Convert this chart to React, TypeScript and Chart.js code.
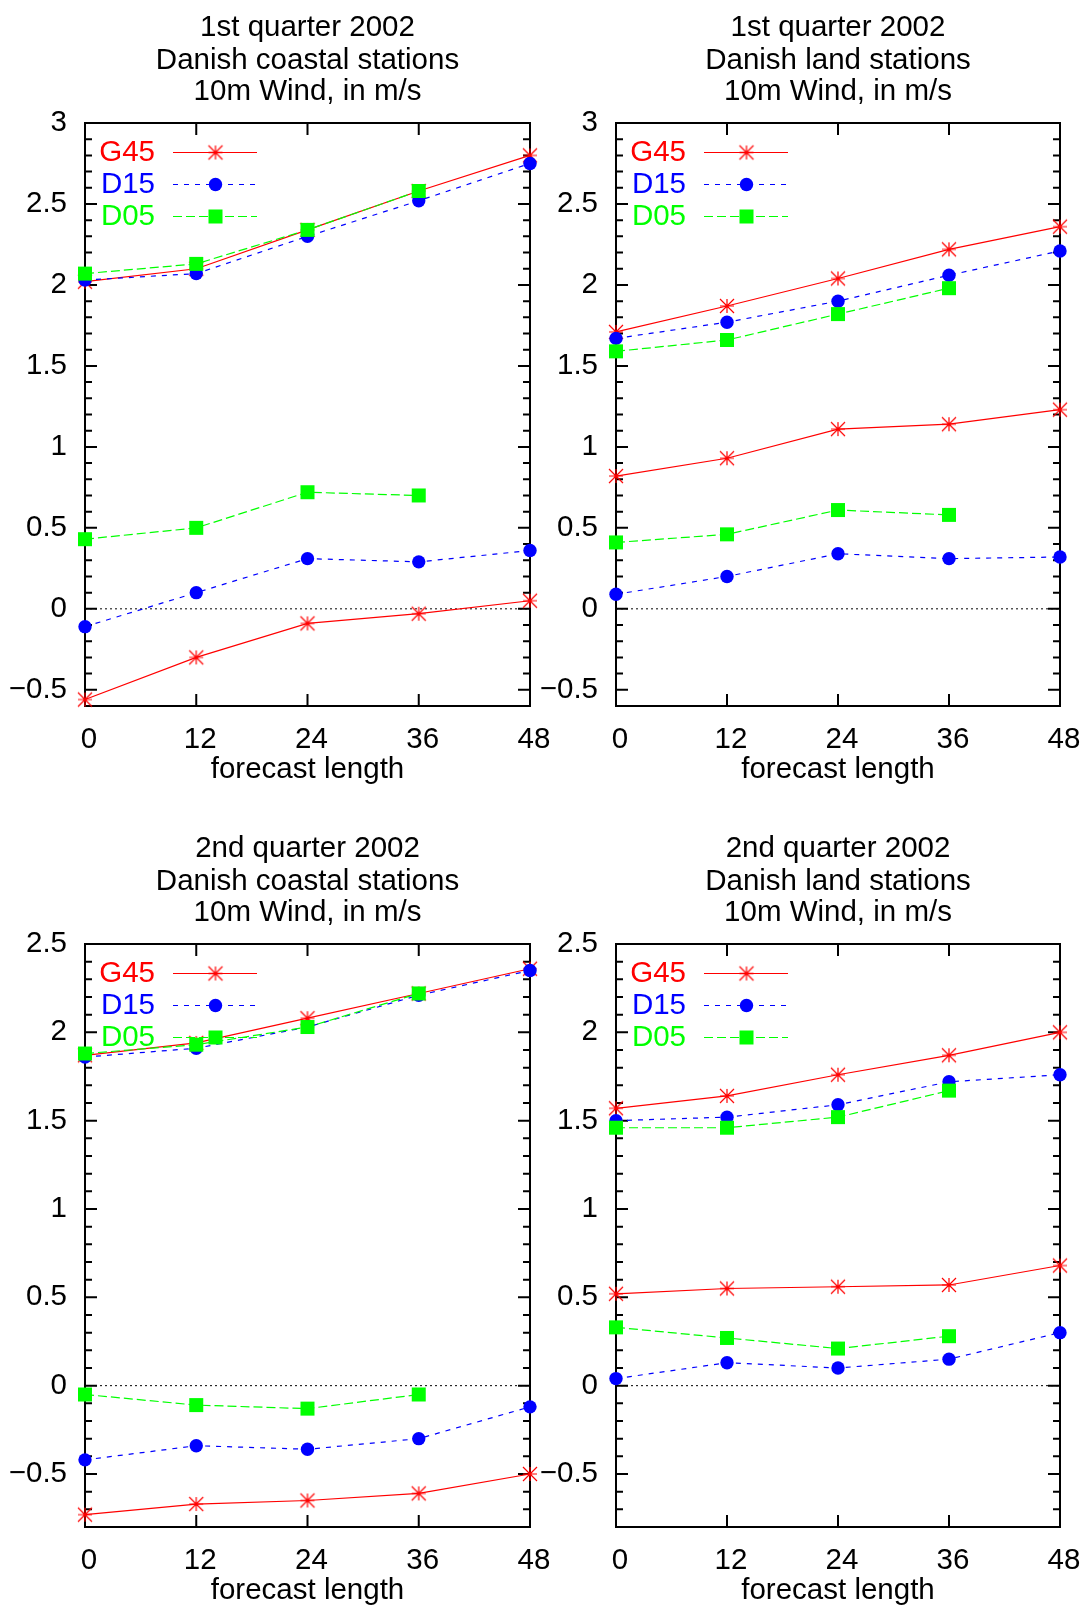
import React, { useEffect, useRef } from "react";
import { Chart, registerables } from "chart.js";

Chart.register(...registerables);

const FONT_FAMILY = '"Liberation Sans", Arial, Helvetica, sans-serif';
const FONT_SIZE = 29.5;
Chart.defaults.font.family = FONT_FAMILY;

// ---------- data ----------
const forecastHours = [0, 12, 24, 36, 48];
const xTickValues = [0, 12, 24, 36, 48];
const xAxisTitle = "forecast length";

const yTicksQ1 = [-0.5, 0, 0.5, 1, 1.5, 2, 2.5, 3];
const yTicksQ2 = [-0.5, 0, 0.5, 1, 1.5, 2, 2.5];
const yRangeQ1 = [-0.6, 3];
const yRangeQ2 = [-0.8, 2.5];

const titleQ1Coast = ["1st quarter 2002", "Danish coastal stations", "10m Wind, in m/s"];
const titleQ1Land = ["1st quarter 2002", "Danish land stations", "10m Wind, in m/s"];
const titleQ2Coast = ["2nd quarter 2002", "Danish coastal stations", "10m Wind, in m/s"];
const titleQ2Land = ["2nd quarter 2002", "Danish land stations", "10m Wind, in m/s"];

const seriesNames = ["G45", "D15", "D05"];

// 1st quarter, coastal
const q1CoastG45Upper = [2.02, 2.1, 2.34, 2.58, 2.8];
const q1CoastD15Upper = [2.03, 2.07, 2.3, 2.52, 2.75];
const q1CoastD05Upper = [2.07, 2.13, 2.34, 2.58, null];
const q1CoastG45Lower = [-0.56, -0.3, -0.09, -0.03, 0.05];
const q1CoastD15Lower = [-0.11, 0.1, 0.31, 0.29, 0.36];
const q1CoastD05Lower = [0.43, 0.5, 0.72, 0.7, null];

// 1st quarter, land
const q1LandG45Upper = [1.71, 1.87, 2.04, 2.22, 2.36];
const q1LandD15Upper = [1.67, 1.77, 1.9, 2.06, 2.21];
const q1LandD05Upper = [1.59, 1.66, 1.82, 1.98, null];
const q1LandG45Lower = [0.82, 0.93, 1.11, 1.14, 1.23];
const q1LandD15Lower = [0.09, 0.2, 0.34, 0.31, 0.32];
const q1LandD05Lower = [0.41, 0.46, 0.61, 0.58, null];

// 2nd quarter, coastal
const q2CoastG45Upper = [1.87, 1.94, 2.08, 2.22, 2.36];
const q2CoastD15Upper = [1.86, 1.91, 2.03, 2.21, 2.35];
const q2CoastD05Upper = [1.88, 1.93, 2.03, 2.22, null];
const q2CoastG45Lower = [-0.73, -0.67, -0.65, -0.61, -0.5];
const q2CoastD15Lower = [-0.42, -0.34, -0.36, -0.3, -0.12];
const q2CoastD05Lower = [-0.05, -0.11, -0.13, -0.05, null];

// 2nd quarter, land
const q2LandG45Upper = [1.57, 1.64, 1.76, 1.87, 2.0];
const q2LandD15Upper = [1.5, 1.52, 1.59, 1.72, 1.76];
const q2LandD05Upper = [1.46, 1.46, 1.52, 1.67, null];
const q2LandG45Lower = [0.52, 0.55, 0.56, 0.57, 0.68];
const q2LandD15Lower = [0.04, 0.13, 0.1, 0.15, 0.3];
const q2LandD05Lower = [0.33, 0.27, 0.21, 0.28, null];

// ---------- styles / layout ----------
type Marker = "star" | "circle" | "rect";
const seriesStyles: Record<string, { color: string; dash: number[]; marker: Marker; order: number }> = {
  G45: { color: "#ff0000", dash: [], marker: "star", order: 3 },
  D15: { color: "#0000ff", dash: [5, 6], marker: "circle", order: 2 },
  D05: { color: "#00ff00", dash: [9, 4], marker: "rect", order: 1 },
};

const STAR_HALF = 7;
const CIRCLE_R = 6.7;
const SQUARE_SIDE = 14;
const LINE_W = 1.2;
const X_AXIS_H = 82;

let starCache: HTMLCanvasElement | null = null;
function starCanvas(): HTMLCanvasElement {
  if (starCache) return starCache;
  const lw = 1.2;
  const size = 2 * STAR_HALF + 4;
  const c = document.createElement("canvas");
  c.width = size;
  c.height = size;
  const g = c.getContext("2d")!;
  const m = size / 2;
  const h = STAR_HALF;
  g.strokeStyle = seriesStyles.G45.color;
  g.lineWidth = lw;
  g.beginPath();
  g.moveTo(m - h, m);
  g.lineTo(m + h, m);
  g.moveTo(m, m - h);
  g.lineTo(m, m + h);
  g.moveTo(m - h, m - h);
  g.lineTo(m + h, m + h);
  g.moveTo(m - h, m + h);
  g.lineTo(m + h, m - h);
  g.stroke();
  starCache = c;
  return c;
}

function fmtTick(v: number): string {
  const n = Number(v.toFixed(2));
  const s = String(Math.abs(n));
  return n < 0 ? "\u2212" + s : s;
}

type PanelCfg = {
  canvas: { x: number; y: number; w: number; h: number };
  plot: { left: number; top: number; right: number; bottom: number };
  title: string[];
  yRange: number[];
  yTicks: number[];
  series: { name: string; values: (number | null)[] }[];
};

const panels: PanelCfg[] = [
  {
    canvas: { x: 0, y: 0, w: 560, h: 800 },
    plot: { left: 85, top: 123, right: 530, bottom: 706 },
    title: titleQ1Coast,
    yRange: yRangeQ1,
    yTicks: yTicksQ1,
    series: [
      { name: "G45", values: q1CoastG45Upper },
      { name: "D15", values: q1CoastD15Upper },
      { name: "D05", values: q1CoastD05Upper },
      { name: "G45", values: q1CoastG45Lower },
      { name: "D15", values: q1CoastD15Lower },
      { name: "D05", values: q1CoastD05Lower },
    ],
  },
  {
    canvas: { x: 520, y: 0, w: 565, h: 800 },
    plot: { left: 616, top: 123, right: 1060, bottom: 706 },
    title: titleQ1Land,
    yRange: yRangeQ1,
    yTicks: yTicksQ1,
    series: [
      { name: "G45", values: q1LandG45Upper },
      { name: "D15", values: q1LandD15Upper },
      { name: "D05", values: q1LandD05Upper },
      { name: "G45", values: q1LandG45Lower },
      { name: "D15", values: q1LandD15Lower },
      { name: "D05", values: q1LandD05Lower },
    ],
  },
  {
    canvas: { x: 0, y: 800, w: 560, h: 809 },
    plot: { left: 85, top: 944, right: 530, bottom: 1527 },
    title: titleQ2Coast,
    yRange: yRangeQ2,
    yTicks: yTicksQ2,
    series: [
      { name: "G45", values: q2CoastG45Upper },
      { name: "D15", values: q2CoastD15Upper },
      { name: "D05", values: q2CoastD05Upper },
      { name: "G45", values: q2CoastG45Lower },
      { name: "D15", values: q2CoastD15Lower },
      { name: "D05", values: q2CoastD05Lower },
    ],
  },
  {
    canvas: { x: 520, y: 800, w: 565, h: 809 },
    plot: { left: 616, top: 944, right: 1060, bottom: 1527 },
    title: titleQ2Land,
    yRange: yRangeQ2,
    yTicks: yTicksQ2,
    series: [
      { name: "G45", values: q2LandG45Upper },
      { name: "D15", values: q2LandD15Upper },
      { name: "D05", values: q2LandD05Upper },
      { name: "G45", values: q2LandG45Lower },
      { name: "D15", values: q2LandD15Lower },
      { name: "D05", values: q2LandD05Lower },
    ],
  },
];

// title baselines relative to plot top; legend rows relative to plot top-left
const TITLE_BASELINES = [-87, -54.5, -23];
const LEGEND_ROWS = [29.5, 61.5, 93.5];
const LEGEND_TEXT_RIGHT = 70;
const LEGEND_LINE = [88, 172];
const LEGEND_MARK = 130.5;

function drawMarker(ctx: CanvasRenderingContext2D, marker: Marker, color: string, x: number, y: number) {
  if (marker === "star") {
    const s = starCanvas();
    ctx.drawImage(s, x - s.width / 2, y - s.height / 2);
  } else if (marker === "circle") {
    ctx.fillStyle = color;
    ctx.beginPath();
    ctx.arc(x, y, CIRCLE_R, 0, Math.PI * 2);
    ctx.fill();
  } else {
    ctx.fillStyle = color;
    ctx.fillRect(x - SQUARE_SIDE / 2, y - SQUARE_SIDE / 2, SQUARE_SIDE, SQUARE_SIDE);
  }
}

function Panel({ cfg }: { cfg: PanelCfg }) {
  const ref = useRef<HTMLCanvasElement>(null);
  useEffect(() => {
    const canvas = ref.current!;
    const c = cfg.canvas;
    const p = cfg.plot;
    const yAxisW = p.left - c.x;
    const padRight = c.x + c.w - p.right;
    const padTop = p.top - c.y;
    const padBottom = c.y + c.h - p.bottom - X_AXIS_H;

    const datasets = cfg.series.map((s) => {
      const st = seriesStyles[s.name];
      return {
        label: s.name,
        data: forecastHours.map((h, i) => ({ x: h, y: s.values[i] })),
        borderColor: st.color,
        backgroundColor: st.color,
        borderWidth: LINE_W,
        borderDash: st.dash,
        pointStyle: st.marker === "star" ? starCanvas() : st.marker,
        pointRadius: st.marker === "rect" ? SQUARE_SIDE / (2 * Math.SQRT1_2) : st.marker === "circle" ? CIRCLE_R : STAR_HALF,
        pointBorderWidth: 0,
        pointBackgroundColor: st.color,
        pointBorderColor: st.color,
        tension: 0,
        spanGaps: false,
        clip: false as any,
        order: st.order,
      };
    });

    const framePlugin = {
      id: "gnuplotFrame",
      beforeDatasetsDraw(chart: any) {
        const { ctx, chartArea: a, scales } = chart;
        const x = scales.x;
        const y = scales.y;
        ctx.save();
        const y0 = y.getPixelForValue(0);
        ctx.strokeStyle = "#000";
        ctx.lineWidth = 1;
        ctx.setLineDash([2, 3]);
        ctx.beginPath();
        ctx.moveTo(a.left, y0);
        ctx.lineTo(a.right, y0);
        ctx.stroke();
        ctx.setLineDash([]);
        ctx.lineWidth = 2;
        ctx.beginPath();
        for (let k = Math.ceil(y.min * 10 - 1e-6); k <= Math.floor(y.max * 10 + 1e-6); k++) {
          const py = y.getPixelForValue(k / 10);
          const len = k % 5 === 0 ? 12 : 7;
          ctx.moveTo(a.left, py);
          ctx.lineTo(a.left + len, py);
          ctx.moveTo(a.right, py);
          ctx.lineTo(a.right - len, py);
        }
        for (const t of x.ticks) {
          const px = x.getPixelForValue(t.value);
          ctx.moveTo(px, a.bottom);
          ctx.lineTo(px, a.bottom - 12);
          ctx.moveTo(px, a.top);
          ctx.lineTo(px, a.top + 12);
        }
        ctx.stroke();
        ctx.strokeRect(a.left, a.top, a.right - a.left, a.bottom - a.top);
        ctx.restore();
      },
    };

    const textPlugin = {
      id: "gnuplotText",
      afterDatasetsDraw(chart: any) {
        const { ctx, chartArea: a } = chart;
        ctx.save();
        ctx.font = `${FONT_SIZE}px ${FONT_FAMILY}`;
        // title
        ctx.fillStyle = "#000";
        ctx.textAlign = "center";
        ctx.textBaseline = "alphabetic";
        const cx = (a.left + a.right) / 2;
        cfg.title.forEach((line, i) => ctx.fillText(line, cx, a.top + TITLE_BASELINES[i]));
        // legend
        seriesNames.forEach((name, i) => {
          const st = seriesStyles[name];
          const ry = a.top + LEGEND_ROWS[i];
          ctx.fillStyle = st.color;
          ctx.textAlign = "right";
          ctx.textBaseline = "middle";
          ctx.fillText(name, a.left + LEGEND_TEXT_RIGHT, ry);
          ctx.strokeStyle = st.color;
          ctx.lineWidth = LINE_W;
          ctx.setLineDash(st.dash);
          ctx.beginPath();
          ctx.moveTo(a.left + LEGEND_LINE[0], ry);
          ctx.lineTo(a.left + LEGEND_LINE[1], ry);
          ctx.stroke();
          ctx.setLineDash([]);
          drawMarker(ctx, st.marker, st.color, a.left + LEGEND_MARK, ry);
        });
        ctx.restore();
      },
    };

    const tickFont = { family: FONT_FAMILY, size: FONT_SIZE };

    const chart = new Chart(canvas, {
      type: "line",
      data: { datasets: datasets as any },
      options: {
        animation: false,
        responsive: false,
        devicePixelRatio: 1,
        layout: { padding: { left: 0, right: padRight, top: padTop, bottom: padBottom } },
        plugins: {
          legend: { display: false },
          tooltip: { enabled: false },
          title: { display: false },
        },
        scales: {
          x: {
            type: "linear",
            min: forecastHours[0],
            max: forecastHours[forecastHours.length - 1],
            afterBuildTicks: (s: any) => {
              s.ticks = xTickValues.map((v) => ({ value: v }));
            },
            afterFit: (s: any) => {
              s.height = X_AXIS_H;
              s.paddingLeft = 0;
              s.paddingRight = 0;
            },
            ticks: {
              color: "#000",
              font: tickFont,
              padding: 16,
              labelOffset: 4,
              maxRotation: 0,
              autoSkip: false,
              callback: (v: any) => String(v),
            },
            grid: { display: false, drawTicks: false },
            border: { display: false },
            title: {
              display: true,
              text: xAxisTitle,
              color: "#000",
              font: tickFont,
              padding: { top: 0, bottom: 0 },
            },
          },
          y: {
            type: "linear",
            min: cfg.yRange[0],
            max: cfg.yRange[1],
            afterBuildTicks: (s: any) => {
              s.ticks = cfg.yTicks.map((v) => ({ value: v }));
            },
            afterFit: (s: any) => {
              s.width = yAxisW;
              s.paddingTop = 0;
              s.paddingBottom = 0;
            },
            ticks: {
              color: "#000",
              font: tickFont,
              padding: 18,
              autoSkip: false,
              callback: (v: any) => fmtTick(Number(v)),
            },
            grid: { display: false, drawTicks: false },
            border: { display: false },
          },
        },
      } as any,
      plugins: [framePlugin, textPlugin],
    });
    return () => chart.destroy();
  }, [cfg]);

  return (
    <canvas
      ref={ref}
      width={cfg.canvas.w}
      height={cfg.canvas.h}
      style={{
        position: "absolute",
        left: cfg.canvas.x,
        top: cfg.canvas.y,
        width: cfg.canvas.w,
        height: cfg.canvas.h,
      }}
    />
  );
}

export default function App() {
  return (
    <div
      style={{
        position: "absolute",
        left: 0,
        top: 0,
        width: 1085,
        height: 1609,
        overflow: "hidden",
        background: "#fff",
      }}
    >
      {panels.map((cfg, i) => (
        <Panel key={i} cfg={cfg} />
      ))}
    </div>
  );
}
